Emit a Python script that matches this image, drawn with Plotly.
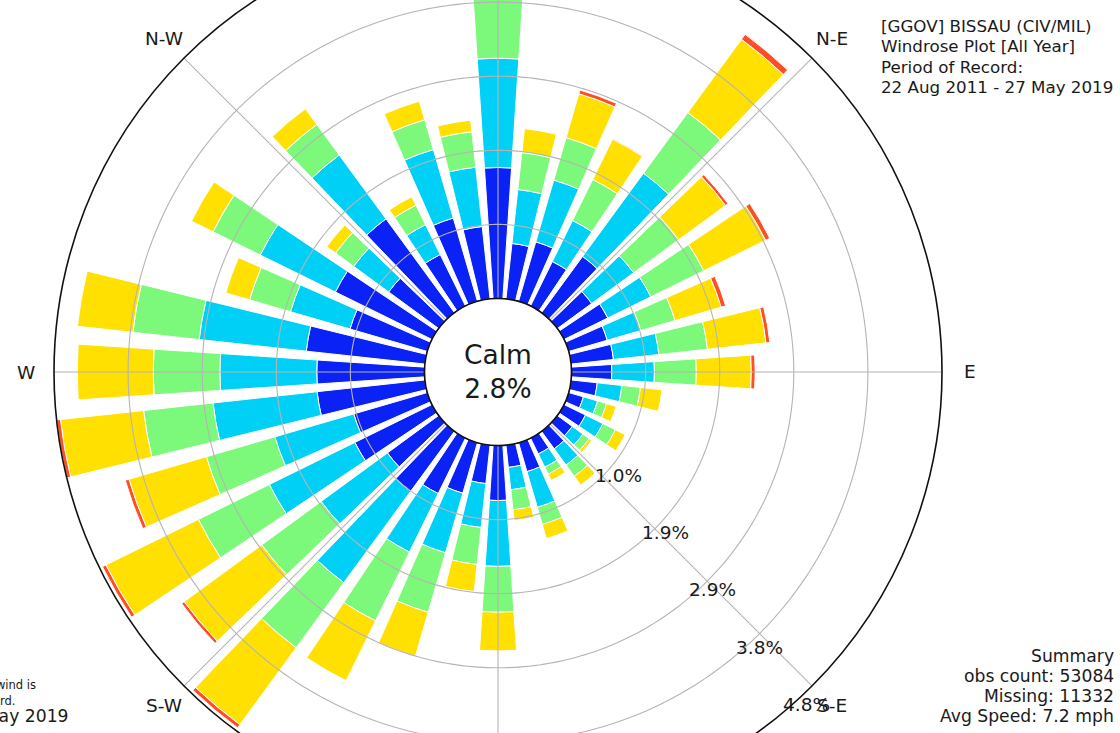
import math
import plotly.graph_objects as go

# Wind direction (degrees, where the wind blows from) and speed bins
directions = list(range(0, 360, 10))
speed_bins = ["2 - 5 mph", "5 - 7 mph", "7 - 10 mph", "10 - 15 mph", "15 - 20 mph"]
bin_colors = ["#0a22f5", "#00d0f6", "#7cf97a", "#ffe000", "#ff4d24"]

# Frequency (% of observations) per direction for each speed bin
freq_2_5 = [1.69, 0.72, 0.80, 0.64, 0.90, 0.55, 0.63, 0.52, 0.55, 0.52, 0.34, 0.20,
            0.31, 0.24, 0.28, 0.23, 0.39, 0.29, 0.71, 0.50, 0.68, 0.80, 0.96, 0.82,
            1.11, 0.99, 1.40, 1.39, 1.54, 1.04, 1.39, 0.80, 1.50, 0.74, 1.12, 0.94]
freq_5_7 = [1.41, 0.70, 0.83, 0.59, 1.33, 0.67, 0.62, 0.45, 0.59, 0.55, 0.32, 0.19,
            0.25, 0.17, 0.26, 0.19, 0.48, 0.29, 0.85, 0.57, 0.80, 0.84, 1.46, 1.06,
            1.23, 1.06, 1.35, 1.25, 1.39, 0.80, 1.08, 0.56, 1.02, 0.43, 0.92, 0.77]
freq_7_10 = [1.06, 0.48, 0.57, 0.59, 0.97, 0.72, 0.76, 0.46, 0.63, 0.54, 0.24, 0.12,
             0.18, 0.10, 0.18, 0.10, 0.23, 0.26, 0.59, 0.48, 0.80, 0.99, 1.04, 0.95,
             1.02, 0.92, 0.90, 0.86, 0.86, 0.55, 0.68, 0.29, 0.49, 0.28, 0.40, 0.46]
freq_10_15 = [0.45, 0.31, 0.59, 0.58, 1.17, 0.75, 0.89, 0.62, 0.76, 0.71, 0.28, 0.13,
              0.14, 0.04, 0.14, 0.09, 0.19, 0.14, 0.50, 0.35, 0.59, 0.86, 1.23, 1.24,
              1.33, 1.04, 1.08, 0.98, 0.72, 0.32, 0.31, 0.14, 0.25, 0.12, 0.25, 0.15]
freq_15_20 = [0.01, 0.00, 0.05, 0.01, 0.08, 0.04, 0.06, 0.06, 0.05, 0.05, 0.00, 0.00,
              0.00, 0.00, 0.00, 0.00, 0.00, 0.00, 0.00, 0.00, 0.00, 0.00, 0.05, 0.04,
              0.05, 0.05, 0.05, 0.00, 0.00, 0.00, 0.00, 0.00, 0.00, 0.00, 0.00, 0.00]

calm_pct = 2.8
compass_angles = [0, 45, 90, 135, 180, 225, 270, 315]
compass_labels = ["N", "N-E", "E", "S-E", "S", "S-W", "W", "N-W"]

station_lines = ["[GGOV] BISSAU (CIV/MIL)", "Windrose Plot [All Year]",
                 "Period of Record:", "22 Aug 2011 - 27 May 2019"]
summary_lines = ["Summary", "obs count: 53084", "Missing: 11332", "Avg Speed: 7.2 mph"]
footer_lines = ["Direction is where the wind is", "blowing from, not toward."]
generated_line = "Generated: 27 May 2019"

series = [freq_2_5, freq_5_7, freq_7_10, freq_10_15, freq_15_20]

# radial extent = largest stacked bar, rings at fifths of it
totals = [sum(v) for v in zip(*series)]
rmax = max(totals)
ring_vals = [rmax * k / 5 for k in range(1, 6)]
ring_text = ["%.1f%%" % v for v in ring_vals]

# page geometry (px); the figure is taller than the window and shifted up
W, H = 1120, 940
SHIFT = 100
cx, cy, R = 498, 372, 444          # centre / radius as seen in the window
HOLE = 73.5                        # calm circle radius
FONT = "DejaVu Sans"
INK = "#1a1a1a"


def px(x, y):
    """window pixel -> paper fraction"""
    return x / W, (H - (y + SHIFT)) / H


def polar_px(r_val, compass_deg, r_extra=0.0):
    """polar position (data radius, compass angle) -> window pixel"""
    rp = HOLE + r_val / rmax * (R - HOLE) + r_extra
    a = math.radians(compass_deg)
    return cx + rp * math.sin(a), cy - rp * math.cos(a)


fig = go.Figure()

for name, vals, col in zip(speed_bins, series, bin_colors):
    fig.add_trace(go.Barpolar(
        r=vals, theta=directions, name=name, width=7.6,
        marker=dict(color=col, line=dict(color="white", width=1)),
    ))

# grid drawn over the bars: rings and compass spokes
ring_r, ring_t = [], []
for v in ring_vals[:-1]:
    ring_r += [v] * 361 + [None]
    ring_t += list(range(0, 361)) + [None]
for a in compass_angles:
    ring_r += [0, rmax, None]
    ring_t += [a, a, None]
fig.add_trace(go.Scatterpolar(
    r=ring_r, theta=ring_t, mode="lines", cliponaxis=False,
    line=dict(color="#b4b4b4", width=1.1), hoverinfo="skip", showlegend=False,
))

# outline of the calm circle
fig.add_trace(go.Scatterpolar(
    r=[0] * 361, theta=list(range(0, 361)), mode="lines", cliponaxis=False,
    line=dict(color="#333333", width=1.6), hoverinfo="skip", showlegend=False,
))

dx0, dy1 = px(cx - R, cy + R)
dx1, dy0 = px(cx + R, cy - R)
fig.update_layout(
    width=W, height=H, autosize=False,
    margin=dict(l=0, r=0, t=0, b=0),
    paper_bgcolor="white",
    showlegend=False,
    font=dict(family=FONT, color=INK),
    polar=dict(
        domain=dict(x=[dx0, dx1], y=[dy1, dy0]),
        bgcolor="white",
        hole=HOLE / R,
        barmode="stack",
        angularaxis=dict(
            rotation=90, direction="clockwise",
            tickmode="array", tickvals=compass_angles, ticktext=compass_labels,
            showgrid=False, showline=True, linecolor="#111111", linewidth=1.6,
            ticks="", showticklabels=False,
        ),
        radialaxis=dict(
            range=[0, rmax], tickmode="array", tickvals=ring_vals, ticktext=ring_text,
            showgrid=False, showline=False, ticks="", showticklabels=False,
        ),
    ),
)


def label(x, y, text, size, xanchor="center", yanchor="middle", align="center"):
    ax, ay = px(x, y)
    fig.add_annotation(x=ax, y=ay, xref="paper", yref="paper", text=text,
                       xanchor=xanchor, yanchor=yanchor, align=align, showarrow=False,
                       font=dict(size=size, family=FONT, color=INK))


# compass labels just outside the frame
for ang, txt in zip(compass_angles, compass_labels):
    lx, ly = polar_px(rmax, ang, r_extra=28)
    label(lx, ly, txt, 18.5)

# ring value labels, set beside the rings toward the south-east
for v, txt in zip(ring_vals, ring_text):
    lx, ly = polar_px(v, 140.7)
    label(lx + 27, ly - 11, txt, 18.5)

label(cx, cy - 0.5, "Calm<br>%.1f%%" % calm_pct, 26.5)

for i, t in enumerate(station_lines):
    label(879, 26 + 20.3 * i, t, 16.7, xanchor="left")
for i, t in enumerate(summary_lines):
    label(1116, 656 + 20 * i, t, 17.2, xanchor="right")
label(38, 685, footer_lines[0], 11.5, xanchor="right")
label(17, 700.5, footer_lines[1], 11.5, xanchor="right")
label(71, 715.5, generated_line, 17.2, xanchor="right")

shift_js = """
var gd = document.getElementById('{plot_id}');
gd.style.marginTop = '-%dpx';
document.documentElement.style.overflow = 'hidden';
document.body.style.overflow = 'hidden';
document.body.style.margin = '0';
document.body.style.height = '733px';
""" % SHIFT

fig.write_html("out.html", post_script=shift_js)
